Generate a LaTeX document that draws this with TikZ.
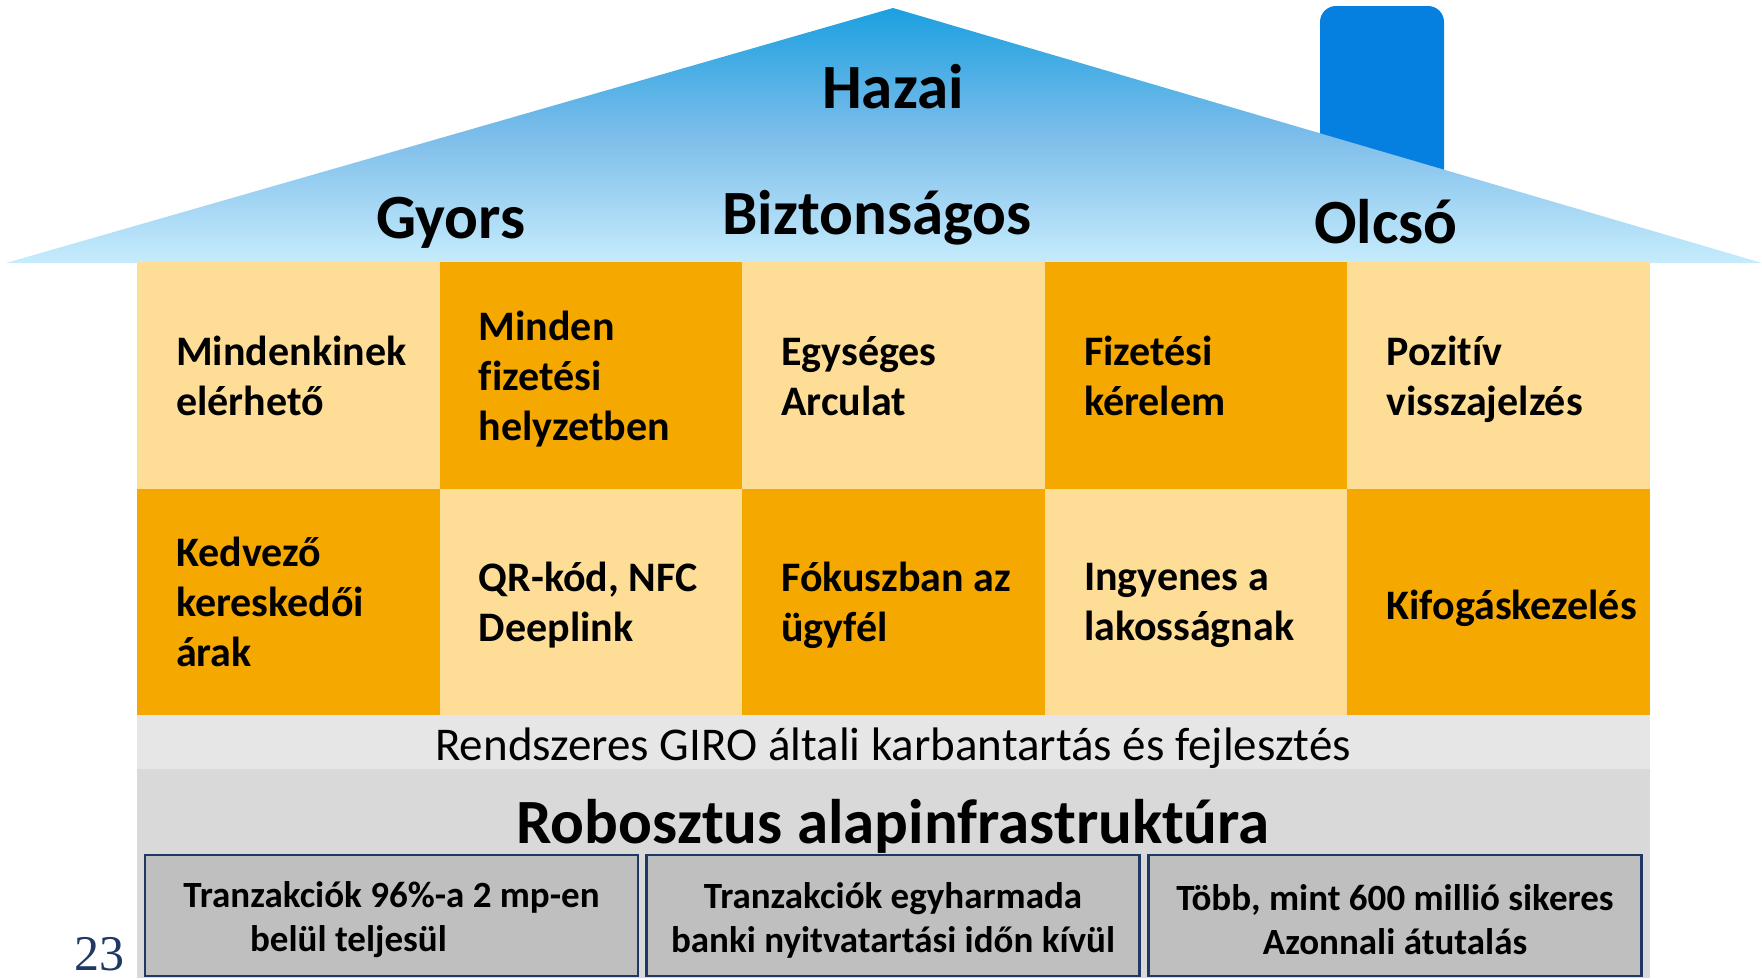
\documentclass[tikz,border=0pt]{standalone}
\usepackage{fontspec}
\setmainfont{Carlito}[Ligatures=NoCommon]
\newfontfamily\pagefont{Liberation Serif}
\usetikzlibrary{positioning}

\definecolor{rooftop}{RGB}{27,160,224}
\definecolor{roofmid}{RGB}{125,189,234}
\definecolor{roofbottom}{RGB}{198,236,252}
\definecolor{chimneyblue}{RGB}{5,128,224}
\definecolor{celllight}{RGB}{254,221,150}
\definecolor{celldark}{RGB}{245,168,0}
\definecolor{bandgray}{RGB}{230,230,230}
\definecolor{basegray}{RGB}{217,217,217}
\definecolor{boxgray}{RGB}{191,191,191}
\definecolor{navy}{RGB}{31,56,100}

\tikzset{
  roofword/.style={font=\bfseries\fontsize{63}{70}\selectfont, anchor=base, inner sep=0},
  cell/.style={minimum width=302.6pt, minimum height=226.5pt, inner sep=0, outer sep=0},
  celltext/.style={font=\bfseries\fontsize{42}{50}\selectfont, align=left, inner sep=0,
    execute at begin node=\strut, execute at end node=\strut, yshift=-8pt},
  infobox/.style={draw=navy, line width=2.5pt, fill=boxgray, minimum width=493pt,
    minimum height=121pt, inner sep=0},
  infotext/.style={align=center, inner sep=0, yshift=-4.5pt,
    font=\bfseries\fontsize{37}{44}\selectfont}
}

\begin{document}
\begin{tikzpicture}[x=1pt, y=-1pt]

    % Frame of the slide
    \useasboundingbox (0,0) rectangle (1762,978);
    \def\gx{137}
    \def\gxr{1650}
    \def\cw{302.6}
    \def\rh{226.5}

    % Roof corners
    \coordinate (eaveL) at (6,263);
    \coordinate (apex) at (893,8);
    \coordinate (eaveR) at (1762,263);

    % Chimney (behind the roof)
    \fill[chimneyblue, rounded corners=16pt] (1320,180) -- (1320,6) -- (1444,6) -- (1444,180);

    % Roof
    \shade[top color=rooftop, bottom color=roofbottom, middle color=roofmid] (eaveL) -- (apex) -- (eaveR) -- cycle;
    \node[roofword] (hazai) at (893,108) {Hazai};
    \node[roofword] (gyors) at (451,238) {Gyors};
    \node[roofword] (bizt) at (877,234) {Biztonságos};
    \node[roofword] (olcso) at (1386,243) {Olcsó};

    % Walls: checkerboard of cells
    \foreach \c/\r/\fc/\txt in {
        1/1/light/{Mindenkinek\\elérhető},
        2/1/dark/{Minden\\fizetési\\helyzetben},
        3/1/light/{Egységes\\Arculat},
        4/1/dark/{Fizetési\\kérelem},
        5/1/light/{Pozitív\\visszajelzés},
        1/2/dark/{Kedvező\\kereskedői\\árak},
        2/2/light/{QR-kód, NFC\\Deeplink},
        3/2/dark/{Fókuszban az\\ügyfél},
        4/2/light/{Ingyenes a\\lakosságnak},
        5/2/dark/{Kifogáskezelés}}
    {
        \node[cell, fill=cell\fc] (c\c\r) at ({\gx+(\c-0.5)*\cw}, {262+(\r-0.5)*\rh}) {};
        \node[celltext, right=39pt of c\c\r.west] (t\c\r) {\txt};
    }

    % Foundation
    \fill[bandgray] (\gx,715) rectangle (\gxr,769);
    \fill[basegray] (\gx,769) rectangle (\gxr,978);
    \node[anchor=base, inner sep=0, font=\fontsize{47}{52}\selectfont] (giro) at (893,760)
        {Rendszeres GIRO általi karbantartás és fejlesztés};
    \node[anchor=base, inner sep=0, font=\bfseries\fontsize{63}{70}\selectfont] (robust) at (893,843)
        {Robosztus alapinfrastruktúra};

    % Facts
    \node[infobox] (b1) at (391.5,915.5) {};
    \node[infobox] (b2) at (893,915.5) {};
    \node[infobox] (b3) at (1395,915.5) {};
    \node[infotext] (b1t) at (b1.center) {Tranzakciók 96\%-a 2 mp-en\\belül teljesül\hspace*{86pt}};
    \node[infotext] (b2t) at (b2.center) {Tranzakciók egyharmada\\banki nyitvatartási időn kívül};
    \node[infotext] (b3t) at (b3.center) {Több, mint 600 millió sikeres\\Azonnali átutalás};

    % Slide number
    \node[anchor=base, inner sep=0, text depth=0pt, text=navy, font=\pagefont\fontsize{50}{55}\selectfont] (pnum) at (99.5,970) {23};

\end{tikzpicture}
\end{document}
